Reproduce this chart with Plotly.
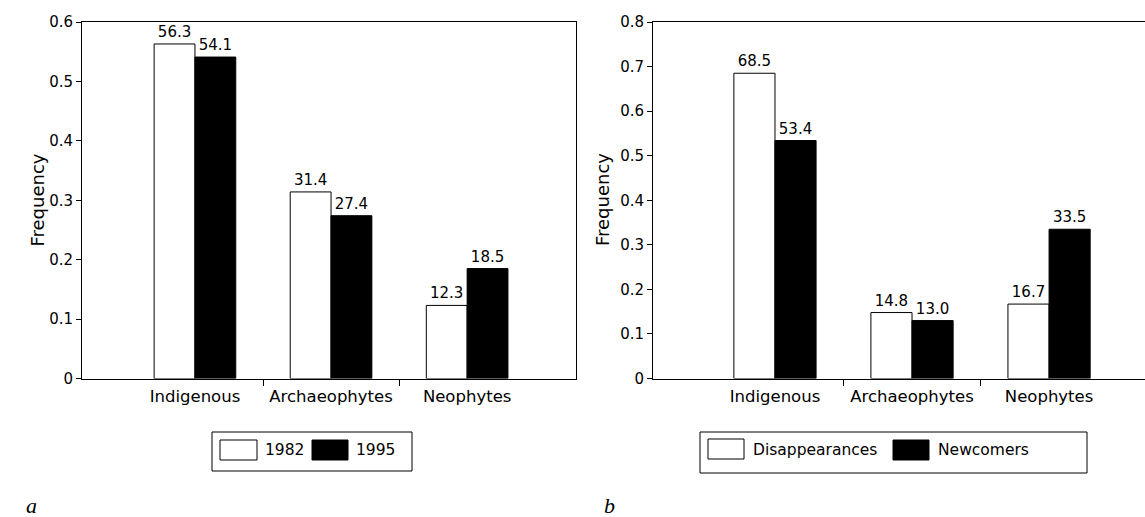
import plotly.graph_objects as go

W, H = 1145, 517

categories = ["Indigenous", "Archaeophytes", "Neophytes"]
# panel a
a_1982 = [0.563, 0.314, 0.123]
a_1995 = [0.541, 0.274, 0.185]
a_1982_lbl = ["56.3", "31.4", "12.3"]
a_1995_lbl = ["54.1", "27.4", "18.5"]
# panel b
b_dis = [0.685, 0.148, 0.167]
b_new = [0.534, 0.130, 0.335]
b_dis_lbl = ["68.5", "14.8", "16.7"]
b_new_lbl = ["53.4", "13.0", "33.5"]

a_yticks = [0, 0.1, 0.2, 0.3, 0.4, 0.5, 0.6]
b_yticks = [0, 0.1, 0.2, 0.3, 0.4, 0.5, 0.6, 0.7, 0.8]
legend_a = ["1982", "1995"]
legend_b = ["Disappearances", "Newcomers"]

FONT = "DejaVu Sans"
xpos = list(range(len(categories)))


def px(x):
    return x / W


def py(y):
    return 1 - y / H


fig = go.Figure()

def bars(x, vals, lbls, fill, xa, ya):
    fig.add_trace(go.Bar(
        x=x, y=vals, text=lbls, textposition="outside",
        textfont=dict(family=FONT, size=15, color="black"),
        marker=dict(color=fill, line=dict(color="black", width=1)),
        xaxis=xa, yaxis=ya, cliponaxis=False, showlegend=False,
    ))

bars(xpos, a_1982, a_1982_lbl, "white", "x", "y")
bars(xpos, a_1995, a_1995_lbl, "black", "x", "y")
bars(xpos, b_dis, b_dis_lbl, "white", "x2", "y2")
bars(xpos, b_new, b_new_lbl, "black", "x2", "y2")

xcommon = dict(
    showline=True, linecolor="black", linewidth=1, mirror=True, automargin=False,
    tickmode="array", tickvals=xpos, ticktext=categories, ticks="",
    ticklabelstandoff=3,
    tickfont=dict(family=FONT, size=16.5, color="black"),
    showgrid=False, zeroline=False, fixedrange=True,
    minor=dict(tickmode="array", tickvals=[0.5, 1.5], ticks="outside",
               ticklen=6, tickcolor="black", tickwidth=1),
)
ycommon = dict(
    showline=True, linecolor="black", linewidth=1, automargin=False,
    tickmode="array", ticks="outside", ticklen=5, tickcolor="black",
    tickfont=dict(family=FONT, size=15, color="black"),
    showgrid=False, zeroline=False,
)

fig.update_layout(
    width=W, height=H, margin=dict(l=0, r=0, t=0, b=0, autoexpand=False),
    paper_bgcolor="white", plot_bgcolor="white",
    barmode="group", bargap=0.4, bargroupgap=0,
    xaxis=dict(domain=[px(82), px(576)], range=[-0.83, 2.80], anchor="y", **xcommon),
    yaxis=dict(domain=[py(378.5), py(22)], range=[0, 0.6], tickvals=a_yticks,
               anchor="x", mirror=True, **ycommon),
    xaxis2=dict(domain=[px(653), 1.0], range=[-0.89, 2.70], anchor="y2", **xcommon),
    yaxis2=dict(domain=[py(378.5), py(22)], range=[0, 0.8], tickvals=b_yticks,
                anchor="x2", mirror=False, **ycommon),
)

ann = []
# y titles
for xc in (24, 602):
    ann.append(dict(x=px(xc), y=py(200), xref="paper", yref="paper", text="Frequency",
                    textangle=-90, showarrow=False,
                    font=dict(family=FONT, size=18, color="black")))
# panel letters
ann.append(dict(x=px(24), y=0, xref="paper", yref="paper", text="<i>a</i>",
                yanchor="bottom", yshift=-3, showarrow=False,
                font=dict(family="Liberation Serif", size=22, color="black")))
ann.append(dict(x=px(609), y=0, xref="paper", yref="paper", text="<i>b</i>",
                yanchor="bottom", yshift=-3, showarrow=False,
                font=dict(family="Liberation Serif", size=22, color="black")))

shapes = []
def box(x0, y0, x1, y1, fill):
    shapes.append(dict(type="rect", xref="paper", yref="paper",
                       x0=px(x0), x1=px(x1), y0=py(y1), y1=py(y0),
                       line=dict(color="black", width=1), fillcolor=fill))

def label(x, y, t):
    ann.append(dict(x=px(x), y=py(y), xref="paper", yref="paper", text=t,
                    xanchor="left", yanchor="middle", showarrow=False,
                    font=dict(family=FONT, size=15.5, color="black")))

# legend a
box(212, 432, 412, 471, "rgba(0,0,0,0)")
box(220, 440, 257, 460, "white")
label(263, 450, legend_a[0])
box(312, 440, 348, 460, "black")
label(354, 450, legend_a[1])
# legend b
box(700, 432, 1087, 473, "rgba(0,0,0,0)")
box(708, 439, 744, 459, "white")
label(751, 450, legend_b[0])
box(893, 440, 929, 460, "black")
label(936, 450, legend_b[1])

fig.update_layout(annotations=ann, shapes=shapes)
fig.write_html("out.html")
